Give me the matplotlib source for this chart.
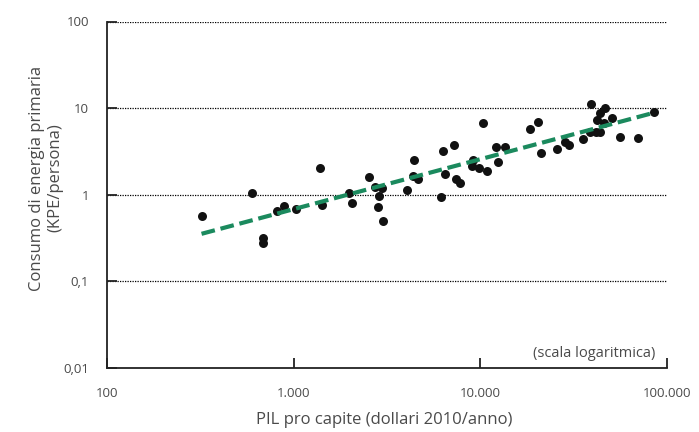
import matplotlib
matplotlib.use("Agg")
import matplotlib.pyplot as plt
from matplotlib.ticker import FixedLocator, NullLocator

# GDP per capita (USD 2010/year) and primary energy consumption (KPE/person)
gdp = [322, 598, 682, 685, 815, 887, 1035, 1384, 1419, 1986, 2046, 2541,
       2723, 2972, 2866, 2818, 2998, 4027, 4436, 4335, 4637, 6166, 6281,
       6502, 7226, 7396, 7776, 9101, 8977, 9859, 10840, 10380, 12190, 13550,
       12480, 18450, 20420, 21130, 25820, 28560, 29740, 35560, 39180, 38890,
       41790, 43880, 42360, 43560, 46450, 50470, 45900, 56100, 69800, 85100]
energy = [0.561, 1.05, 0.318, 0.279, 0.652, 0.745, 0.687, 2.04, 0.765, 1.04,
          0.813, 1.62, 1.24, 1.19, 0.964, 0.716, 0.500, 1.14, 2.49, 1.63,
          1.51, 0.953, 3.23, 1.74, 3.76, 1.53, 1.36, 2.51, 2.14, 2.03, 1.86,
          6.70, 3.60, 3.60, 2.42, 5.68, 6.99, 3.02, 3.36, 4.05, 3.73, 4.38,
          11.2, 5.36, 5.36, 5.36, 7.31, 8.80, 9.97, 7.65, 6.75, 4.59, 4.53,
          8.92]

trend_x = [321, 86000]
trend_y = [0.354, 8.9]

x_ticks = [100, 1000, 10000, 100000]
x_labels = ["100", "1.000", "10.000", "100.000"]
y_ticks = [0.01, 0.1, 1, 10, 100]
y_labels = ["0,01", "0,1", "1", "10", "100"]

plt.rcParams['font.family'] = ['Open Sans', 'DejaVu Sans']
txt = '#4a4a4a'

fig = plt.figure(figsize=(6.99, 4.32), dpi=100)
ax = fig.add_axes([107/699, 1-368/432, 560/699, 346.5/432])
ax.set_xscale('log')
ax.set_yscale('log')
ax.set_xlim(100, 100000)
ax.set_ylim(0.01, 100)

for yv in y_ticks[1:]:
    ax.axhline(yv, color='black', lw=0.9, ls=(0, (1, 1)), zorder=1)

ax.scatter(gdp, energy, s=42, color='#111111', zorder=3, linewidths=0)
ax.plot(trend_x, trend_y, color='#1b8a5e', lw=3, dashes=(3.3, 1.4),
        zorder=4, solid_capstyle='butt')

ax.xaxis.set_major_locator(FixedLocator(x_ticks))
ax.xaxis.set_minor_locator(NullLocator())
ax.yaxis.set_major_locator(FixedLocator(y_ticks))
ax.yaxis.set_minor_locator(NullLocator())
ax.set_xticklabels(x_labels)
ax.set_yticklabels(y_labels)

for s in ['top', 'right']:
    ax.spines[s].set_visible(False)
for s in ['left', 'bottom']:
    ax.spines[s].set_linewidth(1.3)
    ax.spines[s].set_color('#222222')

ax.tick_params(axis='both', direction='in', length=7, width=1.3,
               color='#222222', labelsize=9.5, labelcolor=txt)
ax.tick_params(axis='x', pad=14)
ax.tick_params(axis='y', pad=13)

ax.text(0.979, 0.042, "(scala logaritmica)", transform=ax.transAxes,
        ha='right', va='center', fontsize=10.5, color=txt)

fig.text(384/699, 1-420/432, "PIL pro capite (dollari 2010/anno)",
         ha='center', va='center', fontsize=12, color=txt)
fig.text(46/699, 1-178/432, "Consumo di energia primaria\n(KPE/persona)",
         ha='center', va='center', rotation=90, fontsize=12, color=txt,
         multialignment='center', linespacing=1.2)

fig.savefig("out.png", dpi=100)
